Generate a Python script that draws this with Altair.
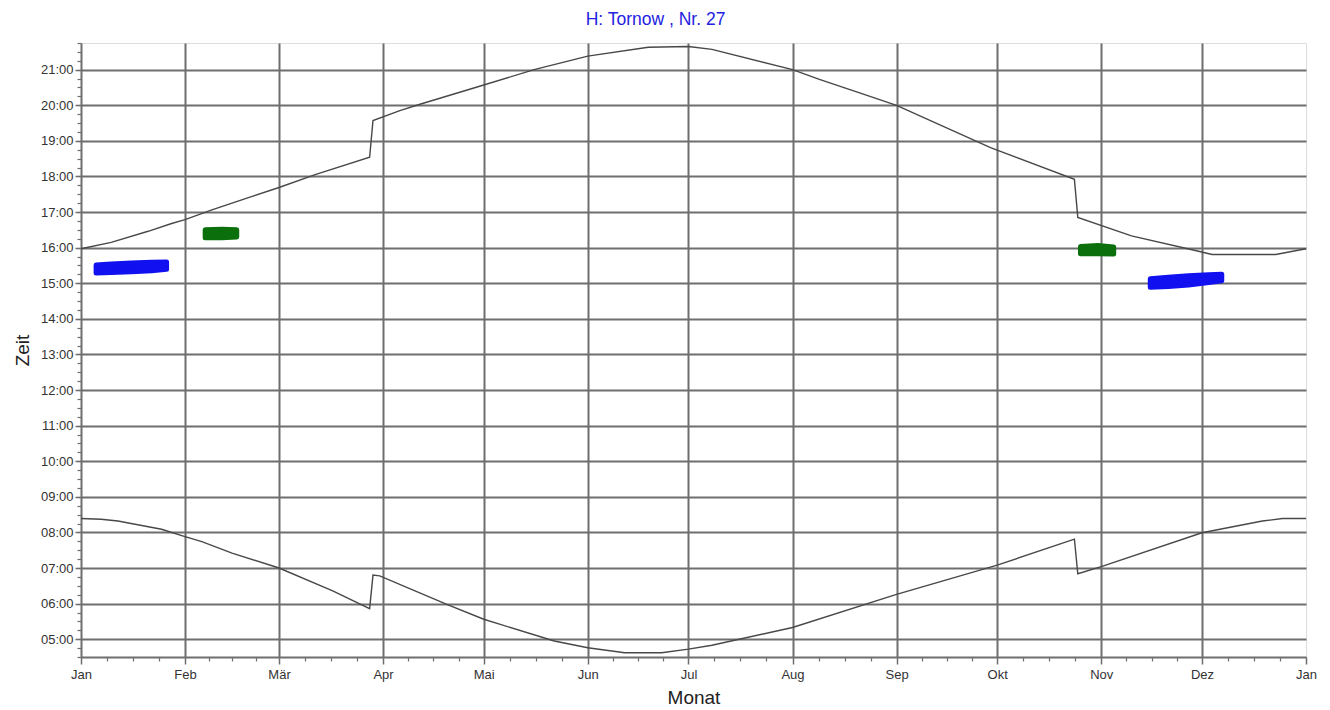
import altair as alt
import pandas as pd

# ---------------- data ----------------
month_names = ["Jan", "Feb", "Mär", "Apr", "Mai", "Jun", "Jul", "Aug", "Sep", "Okt", "Nov", "Dez", "Jan"]
month_start = [0, 31, 59, 90, 120, 151, 181, 212, 243, 273, 304, 334, 365]
hour_ticks = list(range(5, 22))

# sunset (upper curve), hours
sunset_day = [0, 9, 20, 27, 31, 39, 51, 59, 70, 86, 87, 95, 101, 120, 135, 151, 169, 181, 188,
              212, 220, 232, 243, 271, 296, 297, 313, 333, 337, 356, 365]
sunset_time = [15.97, 16.15, 16.46, 16.68, 16.79, 17.06, 17.44, 17.69, 18.06, 18.54, 19.57, 19.85,
               20.03, 20.57, 21.0, 21.38, 21.63, 21.65, 21.57, 21.0, 20.73, 20.35, 20.0, 18.81,
               17.92, 16.85, 16.33, 15.90, 15.81, 15.81, 15.97]

# sunrise (lower curve), hours
sunrise_day = [0, 6, 11, 24, 31, 36, 45, 59, 75, 86, 87, 89, 109, 120, 141, 151, 162, 173, 181,
               188, 212, 243, 273, 296, 297, 304, 334, 352, 358, 365]
sunrise_time = [8.39, 8.37, 8.32, 8.09, 7.88, 7.74, 7.42, 7.0, 6.36, 5.86, 6.80, 6.78, 5.98, 5.56,
                4.95, 4.76, 4.62, 4.62, 4.72, 4.83, 5.33, 6.26, 7.08, 7.81, 6.84, 7.04, 7.99, 8.32,
                8.39, 8.39]

# shadow periods (start / end time per day)
blue1_day = [4.5, 9, 15, 21, 25.5]
blue1_lo = [15.29, 15.30, 15.32, 15.35, 15.39]
blue1_hi = [15.51, 15.54, 15.57, 15.59, 15.60]

green1_day = [37, 42, 46.4]
green1_lo = [16.28, 16.28, 16.30]
green1_hi = [16.50, 16.52, 16.50]

green2_day = [297.8, 303, 307.7]
green2_lo = [15.83, 15.83, 15.82]
green2_hi = [16.03, 16.06, 16.02]

blue2_day = [318.6, 324, 330, 336, 339.9]
blue2_lo = [14.89, 14.91, 14.95, 15.02, 15.07]
blue2_hi = [15.13, 15.17, 15.21, 15.24, 15.25]

# ---------------- frames ----------------
curves = pd.concat([
    pd.DataFrame({"day": sunset_day, "time": sunset_time, "curve": "Sonnenuntergang"}),
    pd.DataFrame({"day": sunrise_day, "time": sunrise_time, "curve": "Sonnenaufgang"}),
])

blob_parts = []
for name, farbe, d, lo, hi in [
    ("b1", "blau", blue1_day, blue1_lo, blue1_hi),
    ("g1", "gruen", green1_day, green1_lo, green1_hi),
    ("g2", "gruen", green2_day, green2_lo, green2_hi),
    ("b2", "blau", blue2_day, blue2_lo, blue2_hi),
]:
    blob_parts.append(pd.DataFrame({"day": d, "lo": lo, "hi": hi, "blob": name, "farbe": farbe}))
blobs = pd.concat(blob_parts)

# axis helper values
minor_month = []
for i in range(12):
    a, b = month_start[i], month_start[i + 1]
    for k in (1, 2, 3):
        minor_month.append(a + (b - a) * k / 4)
quarter_hours = [4.5 + 0.25 * k for k in range(0, 70)]

names_js = "[" + ",".join("'" + n + "'" for n in month_names) + "]"
starts_js = "[" + ",".join(str(v) for v in month_start) + "]"
month_label_expr = f"{names_js}[indexof({starts_js}, datum.value)]"
hour_label_expr = "(datum.value < 10 ? '0' : '') + datum.value + ':00'"

FONT = "Liberation Sans"
GRID = "#6e6e6e"

xs = alt.Scale(domain=[0, 365], nice=False, zero=False)
ys = alt.Scale(domain=[4.5, 21.75], nice=False, zero=False)

lines = alt.Chart(curves).mark_line(color="#484848", strokeWidth=1.4).encode(
    x=alt.X("day:Q", scale=xs, axis=alt.Axis(
        orient="bottom", values=month_start, labelExpr=month_label_expr, grid=False,
        title="Monat", titleFont=FONT, titleFontSize=19, titleFontWeight="normal", titleColor="#222",
        titlePadding=7, labelFont=FONT, labelFontSize=13, labelColor="#333", labelPadding=4,
        tickSize=7, tickColor=GRID, tickWidth=1.5, domainColor=GRID, domainWidth=2,
        labelFlush=False, labelOverlap=False)),
    y=alt.Y("time:Q", scale=ys, axis=alt.Axis(
        orient="left", values=hour_ticks, labelExpr=hour_label_expr, grid=True,
        gridColor=GRID, gridWidth=2, title="Zeit", titleFont=FONT, titleFontSize=19,
        titleFontWeight="normal", titleColor="#222", titlePadding=8,
        labelFont=FONT, labelFontSize=13, labelColor="#333", labelPadding=2,
        tickSize=6, tickColor=GRID, tickWidth=1.5, domainColor=GRID, domainWidth=2,
        labelOverlap=False)),
    detail="curve:N",
)

color_scale = alt.Scale(domain=["blau", "gruen"], range=["#1010f0", "#0b700b"])

areas = alt.Chart(blobs).mark_area(strokeWidth=5, strokeJoin="round", strokeCap="round").encode(
    x=alt.X("day:Q", scale=xs, axis=alt.Axis(
        orient="bottom", values=month_start[1:12], grid=True, gridColor=GRID, gridWidth=2,
        labels=False, ticks=False, domain=False, title=None)),
    y=alt.Y("lo:Q", scale=ys, axis=alt.Axis(
        orient="left", values=quarter_hours, grid=False, labels=False, domain=False,
        tickSize=4, tickColor=GRID, tickWidth=1.2, title=None)),
    y2="hi:Q",
    color=alt.Color("farbe:N", scale=color_scale, legend=None),
    stroke=alt.Stroke("farbe:N", scale=color_scale, legend=None),
    detail="blob:N",
)

minor = alt.Chart(blobs).mark_point(opacity=0).encode(
    x=alt.X("day:Q", scale=xs, axis=alt.Axis(
        orient="bottom", values=minor_month, grid=False, labels=False, domain=False,
        tickSize=4, tickColor=GRID, tickWidth=1.2, title=None)),
    y=alt.Y("lo:Q", scale=ys, axis=None),
)

chart = alt.layer(lines, areas, minor).resolve_axis(
    x="independent", y="independent"
).properties(
    width=1225,
    height=614,
    autosize=alt.AutoSizeParams(type="none"),
    padding={"left": 73, "top": 35, "right": 16, "bottom": 54},
    title=alt.Title("H: Tornow , Nr. 27", font=FONT, fontSize=17.5, fontWeight="normal",
                    color="#2222e0", anchor="middle", dx=-38, offset=14),
).configure_view(stroke=None).configure(background="white")

chart.save("out.html", embed_options={"renderer": "svg", "actions": False})
